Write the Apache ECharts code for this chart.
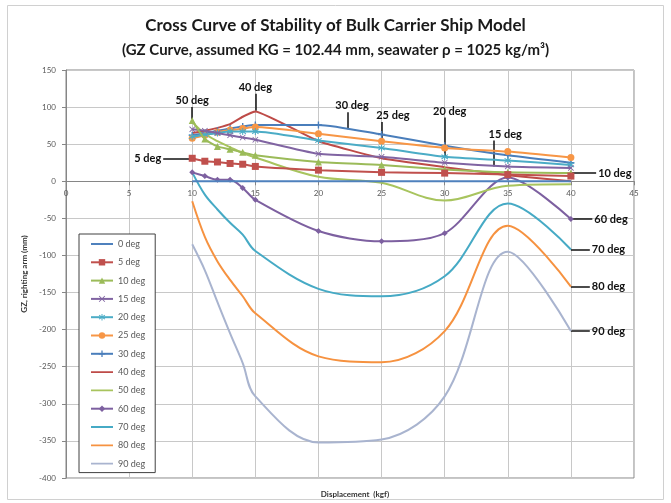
<!DOCTYPE html>
<html><head><meta charset="utf-8">
<script src="https://cdn.jsdelivr.net/npm/echarts@6/dist/echarts.min.js"></script>
<style>html,body{margin:0;padding:0;background:#fff}#c{width:671px;height:503px}</style>
</head><body><div id="c"></div>
<script>
// ---- data ----
const xValues = [10, 11, 12, 13, 14, 15, 20, 25, 30, 35, 40];
const seriesNames = ['0 deg','5 deg','10 deg','15 deg','20 deg','25 deg','30 deg','40 deg','50 deg','60 deg','70 deg','80 deg','90 deg'];
const gz0  = [0, 0, 0, 0, 0, 0, 0, 0, 0, 0, 0];
const gz5  = [31, 27, 26, 24, 23, 20, 15, 12, 11, 9, 7];
const gz10 = [82, 57, 47, 43, 39, 35, 26, 22, 16, 12, 11];
const gz15 = [70, 68, 65, 62, 59, 56, 37, 33, 25, 20, 18];
const gz20 = [60, 63, 65, 67, 67, 67, 55, 45, 33, 28, 22];
const gz25 = [58, 62, 66, 69, 71, 73, 64, 54, 45, 40, 32];
const gz30 = [62, 65, 68, 71, 74, 76, 76, 63, 48, 35, 25];
const gz40 = [65, 68, 72, 77, 87, 94, 54, 31, 19, 8, 0];
const gz50 = [80, 64, 54, 46, 38, 32, 6, -2, -26, -6, -4];
const gz60 = [12, 7, 2, 2, -9, -25, -67, -81, -70, 5, -51];
const gz70 = [12, -18, -38, -56, -72, -94, -145, -155, -128, -30, -92];
const gz80 = [-27, -75, -108, -133, -155, -178, -236, -244, -202, -60, -142];
const gz90 = [-85, -120, -163, -205, -245, -290, -352, -348, -290, -95, -202];
const xTicks = {min: 0, max: 45, interval: 5};
const yTicks = {min: -400, max: 150, interval: 50};

// ---- styles ----
const values = [gz0, gz5, gz10, gz15, gz20, gz25, gz30, gz40, gz50, gz60, gz70, gz80, gz90];
const colors = ['#4F81BD','#C0504D','#9BBB59','#8064A2','#4BACC6','#F79646','#4A7EBB','#BE4B48','#A8C45E','#7D60A0','#46AAC5','#F69240','#A9B4CF'];
const X_PATH = 'path://M1,0L5,4L9,0L10,1L6,5L10,9L9,10L5,6L1,10L0,9L4,5L0,1Z';
const PLUS_PATH = 'path://M4,0H6V4H10V6H6V10H4V6H0V4H4Z';
const STAR_PATH = 'path://M4.3,0H5.7V3.6L8.8,1.3L9.6,2.4L6.4,4.8L9.6,7.6L8.8,8.7L5.7,6.2V10H4.3V6.2L1.2,8.7L0.4,7.6L3.6,4.8L0.4,2.4L1.2,1.3L4.3,3.6Z';
const LINE_ICON = 'path://M0,0H0.01V0.01H0Z M0,3.1H22V4.9H0Z M0,7.99H0.01V8H0Z';
const symbols = ['none','rect','triangle',X_PATH,STAR_PATH,'circle',PLUS_PATH,'none','none','diamond','none','none','none'];
const symSizes = [0, 7, 7, 6, 7, 7, 7, 0, 0, 6, 0, 0, 0];
const smooths = [false, 0.2, 0.2, 0.2, 0.2, 0.2, 0.2, 0.1, 0.35, 0.3, 0.35, 0.35, 0.35];
// leader lines and label anchors (data coords)
const leaders = {
  '5 deg':  {from: [10, 31], to: [7.7, 31], text: [7.7, 31], pos: 'left'},
  '50 deg': {from: [10, 84], to: [10, 100], text: [10, 100], pos: 'top'},
  '40 deg': {from: [15, 95], to: [15, 118], text: [15, 118], pos: 'top'},
  '30 deg': {from: [22.35, 70], to: [22.35, 93], text: [22.66, 93], pos: 'top'},
  '25 deg': {from: [25, 54], to: [25, 80], text: [25.9, 80], pos: 'top'},
  '20 deg': {from: [30, 33], to: [30, 86], text: [30.4, 86], pos: 'top'},
  '15 deg': {from: [33.9, 20], to: [33.9, 55], text: [34.8, 55], pos: 'top'},
  '10 deg': {from: [40, 11], to: [42, 11], text: [42, 11], pos: 'right'},
  '60 deg': {from: [40, -51], to: [41.7, -51], text: [41.7, -51], pos: 'right'},
  '70 deg': {from: [40, -92], to: [41.5, -92], text: [41.5, -92], pos: 'right'},
  '80 deg': {from: [40, -142], to: [41.5, -142], text: [41.5, -142], pos: 'right'},
  '90 deg': {from: [40, -202], to: [41.5, -202], text: [41.5, -202], pos: 'right'}
};

const FONT = 'Lato';
const series = seriesNames.map((name, i) => {
  const s = {
    name: name,
    type: 'line',
    data: xValues.map((x, j) => [x, values[i][j]]),
    smooth: smooths[i],
    symbol: symbols[i],
    symbolSize: symSizes[i],
    showSymbol: symbols[i] !== 'none',
    color: colors[i],
    lineStyle: {width: 2, color: colors[i]},
    itemStyle: {color: colors[i]},
    z: 20 - i,
    animation: false
  };
  const L = leaders[name];
  if (L) {
    s.markLine = {
      silent: true,
      symbol: ['none', 'none'],
      animation: false,
      lineStyle: {color: '#111', width: 1.5, type: 'solid'},
      label: {show: false},
      data: [[{coord: L.from}, {coord: L.to}]]
    };
    s.markPoint = {
      silent: true,
      animation: false,
      symbol: 'circle',
      symbolSize: 0,
      itemStyle: {color: 'transparent'},
      label: {show: true, position: L.pos, distance: L.pos === 'top' ? 1 : 2, formatter: name, color: '#111', fontFamily: FONT, fontWeight: 'bold', fontSize: 11},
      data: [{coord: L.text}]
    };
  }
  return s;
});

const chart = echarts.init(document.getElementById('c'), null, {renderer: 'canvas'});
const zeroOffset = -408 * (0 - yTicks.min) / (yTicks.max - yTicks.min);
chart.setOption({
  backgroundColor: '#fff',
  animation: false,
  title: [{
    text: '{a|Cross Curve of Stability of Bulk Carrier Ship Model}\n{b|(GZ Curve, assumed KG = 102.44 mm, seawater \u03C1 = 1025 kg/m\u00B3)}',
    left: 'center', top: 8,
    textStyle: {
      align: 'center',
      rich: {
        a: {fontFamily: FONT, fontWeight: 'bold', fontSize: 17, lineHeight: 25, color: '#1a1a1a'},
        b: {fontFamily: FONT, fontWeight: 'bold', fontSize: 15, lineHeight: 25, color: '#1a1a1a'}
      }
    }
  }, {
    text: 'Displacement  (kgf)',
    left: 350, top: 485, textAlign: 'center',
    textStyle: {fontFamily: FONT, fontWeight: 'bold', fontSize: 8, color: '#333'}
  }],
  graphic: [{type: 'rect', shape: {x: 7.5, y: 5.5, width: 656, height: 494}, style: {fill: 'none', stroke: '#d0d0d0', lineWidth: 1}, silent: true}],
  grid: {left: 66, right: 37, top: 70, bottom: 25, show: true, borderColor: '#868686', borderWidth: 1, backgroundColor: 'transparent'},
  legend: {
    orient: 'vertical', left: 79, top: 234,
    data: seriesNames.map((n, i) => symbols[i] === 'none' ? {name: n, icon: LINE_ICON} : n),
    itemWidth: 22, itemHeight: 8, itemGap: 6.3,
    padding: [4, 10, 3, 11],
    borderColor: '#404040', borderWidth: 1, backgroundColor: '#fff',
    textStyle: {fontFamily: FONT, fontSize: 9, lineHeight: 12, color: '#595959'}
  },
  xAxis: {
    type: 'value', min: xTicks.min, max: xTicks.max, interval: xTicks.interval,
    position: 'bottom', offset: zeroOffset,
    axisLine: {show: true, onZero: false, lineStyle: {color: '#868686'}},
    axisTick: {show: true, length: 4, lineStyle: {color: '#868686'}},
    axisLabel: {color: '#595959', fontFamily: FONT, fontSize: 8, margin: 8},
    splitLine: {show: true, lineStyle: {color: '#c8c8c8', width: 1}}
  },
  yAxis: {
    type: 'value', min: yTicks.min, max: yTicks.max, interval: yTicks.interval,
    name: 'GZ, righting arm (mm)', nameLocation: 'middle', nameGap: 22, nameRotate: 90,
    nameTextStyle: {fontFamily: FONT, fontWeight: 'bold', fontSize: 8, color: '#333'},
    axisLine: {show: true, lineStyle: {color: '#868686'}},
    axisTick: {show: true, length: 4, lineStyle: {color: '#868686'}},
    axisLabel: {color: '#595959', fontFamily: FONT, fontSize: 8, margin: 10},
    splitLine: {show: true, lineStyle: {color: '#c8c8c8', width: 1}}
  },
  series: series
});
</script>
</body></html>
